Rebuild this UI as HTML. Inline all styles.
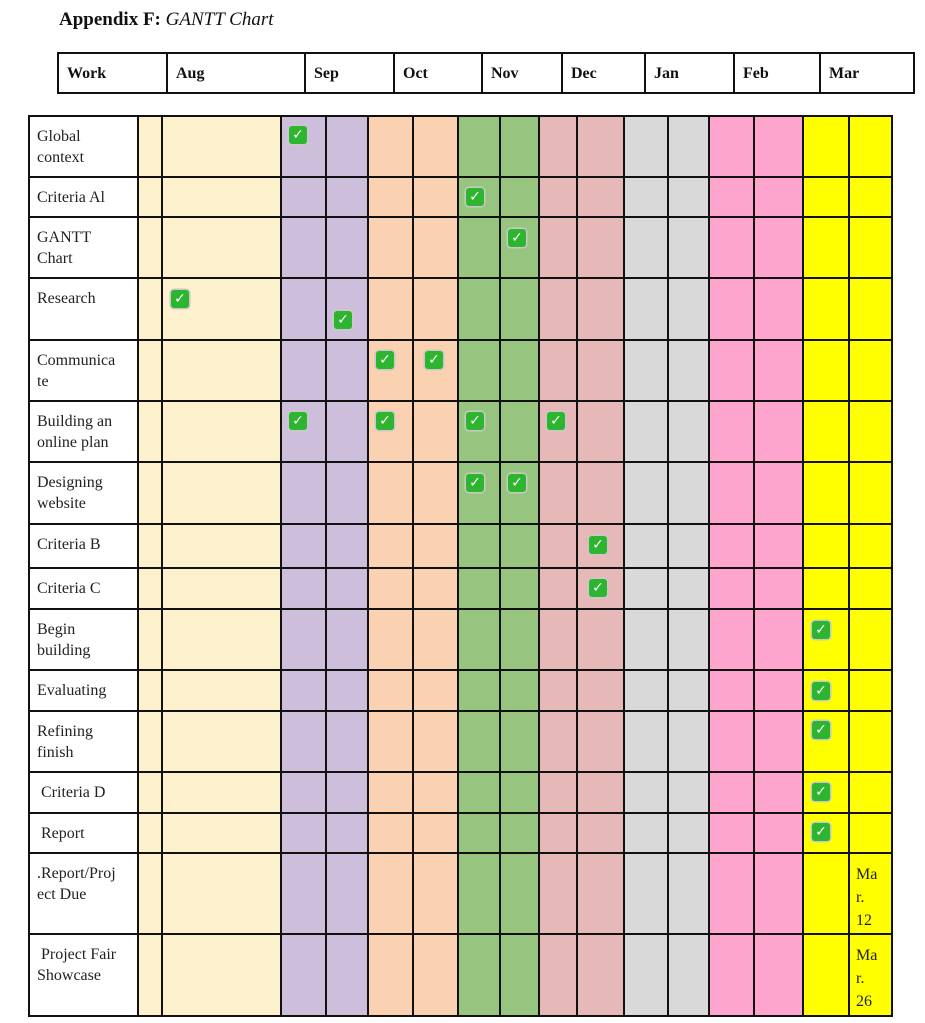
<!DOCTYPE html>
<html><head><meta charset="utf-8"><style>
body{margin:0;width:925px;height:1023px;background:#fff;position:relative;font-family:"Liberation Serif",serif;overflow:hidden}
.c{position:absolute;box-sizing:border-box;border:2px solid #111}
.t{position:absolute;font-size:16px;line-height:21px;color:#222}
.h{position:absolute;font-size:16px;font-weight:bold;color:#111}
.ck{position:absolute;width:18px;height:18px;background:#2db52f;border-radius:3px;box-shadow:0 0 0 1.5px #c9c9c9;color:#fff;font:bold 14px/18px "DejaVu Sans",sans-serif;text-align:center}
</style></head><body>
<div class="h" style="left:59px;top:9px;font-size:19px">Appendix F: <i style="font-weight:normal">GANTT Chart</i></div>
<div id="root"></div>
<script>
var r=document.getElementById('root'),H='';
var hx=[57,166,304,393,481,561,644,733,819,913],hl=['Work','Aug','Sep','Oct','Nov','Dec','Jan','Feb','Mar'];
for(var i=0;i<9;i++){H+='<div class="c" style="left:'+hx[i]+'px;top:52px;width:'+(hx[i+1]-hx[i]+2)+'px;height:42px"></div><div class="h" style="left:'+(hx[i]+10)+'px;top:65px">'+hl[i]+'</div>';}
var xs=[28,137,161,280,325,367,412,457,499,538,576,623,667,708,753,802,848,891];
var ys=[115,176,216,277,339,400,461,523,567,608,669,710,771,812,852,933,1015];
var cols=['#fff','#fdf0cd','#fdf0cd','#cdbfdc','#cdbfdc','#fad1b1','#fad1b1','#97c47e','#97c47e','#e6b8b8','#e6b8b8','#d9d9d9','#d9d9d9','#fda5cc','#fda5cc','#ffff00','#ffff00'];
var labels=['Global<br>context','Criteria Al','GANTT<br>Chart','Research','Communica<br>te','Building an<br>online plan','Designing<br>website','Criteria B','Criteria C','Begin<br>building','Evaluating','Refining<br>finish','&nbsp;Criteria D','&nbsp;Report','.Report/Proj<br>ect Due','&nbsp;Project Fair<br>Showcase'];
for(var j=0;j<16;j++){for(var i=0;i<17;i++){
H+='<div class="c" style="left:'+xs[i]+'px;top:'+ys[j]+'px;width:'+(xs[i+1]-xs[i]+2)+'px;height:'+(ys[j+1]-ys[j]+2)+'px;background:'+cols[i]+'"></div>';}
H+='<div class="t" style="left:37px;top:'+(ys[j]+11)+'px">'+labels[j]+'</div>';}
H+='<div class="t" style="left:856px;top:863px;line-height:23px">Ma<br>r.<br>12</div>';
H+='<div class="t" style="left:856px;top:944px;line-height:23px">Ma<br>r.<br>26</div>';
var ck=[[289,126],[466,188],[508,229],[171,290],[334,311],[376,351],[425,351],[289,412],[376,412],[466,412],[547,412],[466,474],[508,474],[589,536],[589,579],[812,621],[812,682],[812,721],[812,783],[812,823]];
ck.forEach(function(p){H+='<div class="ck" style="left:'+p[0]+'px;top:'+p[1]+'px">✓</div>';});
r.innerHTML=H;
</script>
</body></html>
